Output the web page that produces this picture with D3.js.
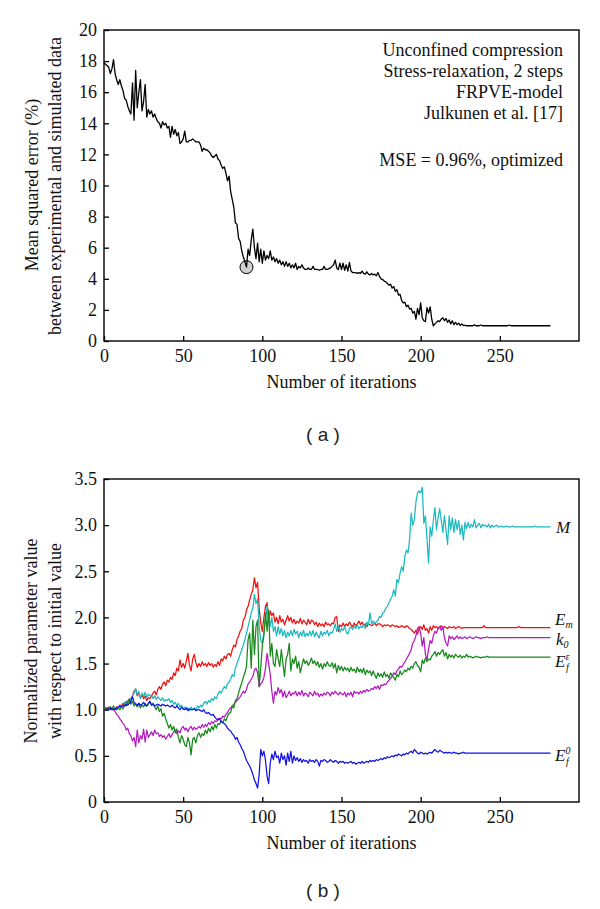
<!DOCTYPE html>
<html><head><meta charset="utf-8">
<script src="https://cdn.jsdelivr.net/npm/d3@7"></script>
<style>body{margin:0;background:#fff}svg{display:block}</style>
</head><body><svg id="c" width="600" height="909"></svg>
<script>
// ---------- data ----------
const xTicks = [0, 50, 100, 150, 200, 250];
const yTicksA = [0, 2, 4, 6, 8, 10, 12, 14, 16, 18, 20];
const yTicksB = [0, 0.5, 1.0, 1.5, 2.0, 2.5, 3.0, 3.5];
const annotationLines = ["Unconfined compression", "Stress-relaxation, 2 steps", "FRPVE-model", "Julkunen et al. [17]"];
const annotationMse = "MSE = 0.96%, optimized";
const optimumIteration = 90;
const optimumValue = 4.75;

const mse = [
17.9,17.8,17.7,17.6,17.2,17.5,18.1,17.2,16.8,16.5,
16.8,16.4,16.1,15.6,15.5,15.1,14.8,14.6,16.6,14.2,
17.4,15.0,16.0,16.8,14.8,15.4,16.5,14.4,14.9,14.6,
14.8,14.4,14.6,14.3,14.1,14.0,13.7,14.1,13.9,14.0,
13.7,13.8,13.1,13.8,13.3,13.6,13.2,13.4,12.7,12.8,
13.0,13.5,12.8,12.8,12.9,12.9,13.0,12.9,12.8,12.8,
12.8,12.6,12.2,12.4,12.3,12.3,12.2,12.1,11.9,11.8,
11.9,12.0,11.7,11.6,11.3,11.1,11.2,10.8,10.3,10.6,
9.6,9.1,8.6,7.6,7.5,6.6,6.4,5.8,5.4,5.1,
4.75,5.9,5.5,6.5,7.2,6.0,5.3,6.3,5.1,5.9,
5.0,5.8,5.2,5.5,5.3,5.8,5.2,5.4,5.1,5.3,
5.0,5.2,4.9,5.1,4.8,5.1,4.8,5.0,4.7,4.9,
4.7,5.0,4.6,4.8,4.7,4.9,4.7,4.6,4.6,4.7,
4.6,4.6,4.8,4.6,4.6,4.6,4.55,4.6,4.6,4.8,
4.6,4.6,4.65,4.7,4.8,4.9,5.2,4.7,4.6,5.0,
4.6,5.0,4.55,4.9,4.5,5.05,4.5,4.4,4.4,4.4,
4.35,4.4,4.35,4.5,4.35,4.3,4.45,4.3,4.25,4.35,
4.25,4.3,4.2,4.4,4.15,4.0,3.95,3.85,3.8,3.7,
3.6,3.65,3.4,3.5,3.2,3.3,2.95,3.0,2.6,2.45,
2.5,2.2,2.3,2.05,2.1,1.8,1.9,1.4,2.1,1.7,
2.45,1.5,1.3,1.25,2.15,1.8,2.2,1.4,0.98,1.1,
1.2,1.3,1.25,1.4,1.5,1.3,1.45,1.2,1.35,1.1,
1.3,1.05,1.2,1.05,1.15,1.0,1.1,1.0,1.0,0.98,
0.98,0.98,0.98,0.98,1.04,0.98,0.98,0.98,1.03,0.98,
0.98,0.98,0.98,0.98,0.98,0.98,0.98,0.98,0.98,0.98,
0.98,0.98,0.98,0.98,0.98,0.98,1.03,0.98,0.98,0.98,
0.98,0.98,0.98,0.98,0.98,0.98,0.98,0.98,0.98,0.98,
0.98,0.98,0.98,0.98,0.98,0.98,0.98,0.98,0.98,0.98,
0.98,0.98,0.98];

const seriesM = [
1.0,1.0,1.02,1.0,1.03,1.01,1.04,1.02,1.0,1.03,
1.02,1.05,1.04,1.08,1.06,1.1,1.08,1.12,1.15,1.18,
1.23,1.16,1.2,1.12,1.18,1.14,1.19,1.13,1.17,1.15,
1.16,1.12,1.15,1.11,1.14,1.12,1.1,1.13,1.09,1.11,
1.1,1.12,1.08,1.1,1.06,1.08,1.04,1.07,1.03,1.05,
1.0,1.03,1.0,1.02,0.99,1.03,1.0,1.02,1.0,1.04,
1.02,1.05,1.03,1.07,1.09,1.06,1.1,1.08,1.12,1.1,
1.14,1.12,1.17,1.2,1.18,1.22,1.25,1.23,1.28,1.3,
1.33,1.38,1.36,1.45,1.5,1.55,1.6,1.65,1.7,1.76,
1.83,1.9,1.97,2.05,2.1,2.25,2.15,2.2,1.9,1.75,
1.72,1.85,1.97,2.12,2.05,1.9,2.0,1.85,1.9,1.8,
1.9,1.82,1.88,1.8,1.86,1.78,1.84,1.8,1.86,1.8,
1.87,1.82,1.85,1.78,1.84,1.8,1.86,1.79,1.83,1.8,
1.85,1.8,1.86,1.79,1.84,1.8,1.78,1.85,1.8,1.84,
1.82,1.86,1.8,1.84,1.83,1.87,1.93,1.85,1.9,1.84,
1.88,1.86,1.9,1.84,1.82,1.88,1.9,1.87,1.91,1.88,
1.92,1.88,1.9,1.89,1.93,1.88,1.95,1.92,2.05,1.93,
1.96,1.94,1.95,1.97,2.01,2.0,2.05,2.06,2.1,2.12,
2.16,2.2,2.23,2.3,2.23,2.41,2.38,2.48,2.55,2.5,
2.66,2.73,2.7,2.84,3.13,3.0,3.06,3.25,3.35,3.37,
3.35,3.41,3.02,3.1,2.85,2.59,2.98,2.88,3.05,3.19,
2.95,3.08,3.18,3.05,2.92,3.1,2.95,2.79,3.1,2.95,
3.08,2.92,3.06,2.95,3.05,2.9,3.0,2.84,3.03,2.96,
3.03,2.97,3.01,2.98,3.06,2.97,3.0,3.02,2.97,3.01,
2.99,3.0,2.98,3.01,2.97,3.0,2.98,2.99,3.0,2.98,
2.98,2.99,2.98,2.98,2.99,2.98,2.98,2.98,2.99,2.98,
2.98,2.98,2.98,2.98,2.98,2.98,2.98,2.98,2.98,2.98,
2.98,2.98,2.99,2.98,2.98,2.98,2.98,2.98,2.98,2.98,
2.98,2.98,2.98];

const seriesEm = [
1.0,1.02,1.0,1.03,1.0,1.02,1.04,1.01,1.03,1.02,
1.05,1.04,1.07,1.06,1.09,1.08,1.12,1.1,1.15,1.2,
1.22,1.15,1.18,1.13,1.16,1.12,1.15,1.1,1.13,1.12,
1.15,1.18,1.2,1.16,1.22,1.25,1.22,1.28,1.3,1.26,
1.32,1.3,1.35,1.33,1.4,1.37,1.45,1.42,1.54,1.46,
1.5,1.45,1.53,1.61,1.48,1.42,1.55,1.6,1.51,1.46,
1.5,1.47,1.52,1.48,1.5,1.47,1.51,1.48,1.5,1.46,
1.49,1.47,1.52,1.48,1.55,1.53,1.58,1.55,1.6,1.61,
1.58,1.65,1.7,1.68,1.76,1.8,1.85,1.88,1.97,2.0,
2.08,2.12,2.19,2.25,2.3,2.43,2.32,2.38,2.1,1.94,
1.85,2.0,2.12,2.16,1.95,2.07,2.02,2.05,1.95,2.0,
1.93,2.02,1.95,1.98,1.92,1.97,2.02,1.96,2.0,1.94,
1.98,1.93,1.96,1.94,1.99,1.93,1.97,1.95,1.92,1.98,
1.93,1.97,1.96,1.92,1.95,1.9,1.94,1.91,1.93,1.9,
1.95,1.92,1.93,1.91,1.94,1.93,2.0,2.01,1.85,1.92,
1.9,1.94,1.9,1.93,1.91,1.95,1.92,1.9,1.94,1.91,
1.93,1.96,1.92,1.95,1.91,1.93,1.9,1.93,1.92,1.91,
1.92,1.94,1.91,1.93,1.93,1.92,1.9,1.92,1.91,1.92,
1.91,1.9,1.92,1.91,1.9,1.91,1.89,1.9,1.91,1.9,
1.89,1.91,1.9,1.88,1.87,1.85,1.83,1.86,1.82,1.88,
1.9,1.87,1.92,1.86,1.88,1.83,1.9,1.86,1.91,1.89,
1.9,1.88,1.89,1.91,1.88,1.9,1.89,1.88,1.9,1.89,
1.89,1.9,1.88,1.89,1.9,1.89,1.88,1.89,1.89,1.89,
1.89,1.89,1.89,1.89,1.89,1.89,1.89,1.89,1.89,1.89,
1.91,1.89,1.89,1.89,1.89,1.89,1.89,1.89,1.89,1.89,
1.89,1.89,1.89,1.89,1.89,1.89,1.89,1.89,1.89,1.89,
1.89,1.89,1.9,1.89,1.89,1.89,1.89,1.89,1.89,1.89,
1.89,1.89,1.89,1.89,1.89,1.89,1.89,1.89,1.89,1.89,
1.89,1.89,1.89];

const seriesK0 = [
1.0,1.0,1.02,1.0,1.01,1.0,1.0,0.98,0.95,0.93,
0.9,0.88,0.85,0.83,0.78,0.8,0.74,0.72,0.66,0.7,
0.6,0.78,0.64,0.72,0.68,0.79,0.65,0.78,0.7,0.73,
0.76,0.72,0.78,0.74,0.75,0.71,0.73,0.7,0.72,0.68,
0.71,0.74,0.7,0.73,0.76,0.78,0.74,0.77,0.75,0.8,
0.82,0.78,0.8,0.76,0.8,0.82,0.78,0.81,0.79,0.8,
0.82,0.8,0.84,0.81,0.84,0.82,0.86,0.84,0.87,0.85,
0.88,0.87,0.9,0.91,0.9,0.93,0.92,0.95,0.97,1.0,
1.02,1.04,1.06,1.08,1.1,1.12,1.14,1.17,1.2,1.18,
1.22,1.28,1.3,1.33,1.36,1.43,1.45,1.4,1.25,1.28,
1.3,1.35,1.45,1.61,1.5,1.38,1.2,1.07,1.2,1.16,
1.24,1.18,1.22,1.14,1.2,1.13,1.16,1.2,1.15,1.18,
1.17,1.2,1.15,1.19,1.16,1.21,1.15,1.18,1.17,1.14,
1.19,1.17,1.15,1.2,1.16,1.18,1.14,1.17,1.15,1.18,
1.16,1.19,1.18,1.15,1.19,1.17,1.2,1.18,1.16,1.19,
1.17,1.16,1.19,1.14,1.18,1.16,1.19,1.14,1.2,1.18,
1.19,1.17,1.2,1.18,1.21,1.19,1.22,1.2,1.21,1.23,
1.22,1.25,1.23,1.26,1.22,1.27,1.26,1.28,1.27,1.3,
1.32,1.34,1.36,1.4,1.38,1.42,1.44,1.47,1.46,1.49,
1.52,1.55,1.58,1.61,1.65,1.72,1.75,1.8,1.88,1.9,
1.83,1.69,1.78,1.6,1.54,1.66,1.75,1.72,1.8,1.85,
1.83,1.88,1.9,1.86,1.9,1.78,1.72,1.69,1.8,1.77,
1.79,1.76,1.78,1.8,1.77,1.79,1.77,1.78,1.79,1.77,
1.78,1.79,1.78,1.77,1.78,1.79,1.78,1.78,1.77,1.78,
1.78,1.78,1.79,1.78,1.78,1.78,1.78,1.78,1.78,1.78,
1.78,1.78,1.78,1.78,1.78,1.78,1.78,1.78,1.78,1.78,
1.78,1.78,1.78,1.78,1.78,1.78,1.78,1.78,1.78,1.78,
1.78,1.78,1.78,1.78,1.78,1.78,1.78,1.78,1.78,1.78,
1.78,1.78,1.78];

const seriesEfEps = [
1.0,1.02,1.0,1.01,1.03,1.0,1.02,1.01,1.0,1.02,
1.0,1.03,1.01,1.05,1.04,1.08,1.11,1.06,1.09,1.04,
1.07,1.03,1.06,1.02,1.05,1.03,1.07,1.04,1.06,1.09,
1.05,1.07,1.03,1.0,1.04,0.98,1.01,0.93,0.96,0.9,
0.85,0.8,0.84,0.78,0.82,0.75,0.79,0.7,0.64,0.72,
0.68,0.62,0.6,0.7,0.64,0.51,0.68,0.7,0.64,0.72,
0.75,0.7,0.74,0.72,0.78,0.74,0.8,0.76,0.82,0.78,
0.84,0.8,0.85,0.84,0.88,0.86,0.9,0.88,0.93,0.96,
0.97,1.04,1.02,1.1,1.12,1.18,1.24,1.29,1.35,1.4,
1.47,1.76,1.83,1.45,1.97,1.6,1.9,1.97,1.25,1.45,
1.7,1.8,2.05,1.85,2.08,1.58,1.72,1.5,1.47,1.65,
1.55,1.47,1.65,1.5,1.36,1.55,1.6,1.72,1.42,1.55,
1.5,1.58,1.45,1.52,1.4,1.48,1.55,1.5,1.53,1.48,
1.51,1.56,1.5,1.53,1.48,1.52,1.46,1.5,1.44,1.5,
1.47,1.52,1.48,1.47,1.51,1.45,1.5,1.4,1.48,1.43,
1.47,1.42,1.46,1.43,1.45,1.41,1.46,1.42,1.44,1.4,
1.46,1.41,1.44,1.4,1.45,1.38,1.43,1.4,1.42,1.37,
1.42,1.38,1.34,1.4,1.36,1.39,1.35,1.41,1.36,1.38,
1.34,1.4,1.37,1.35,1.32,1.38,1.36,1.42,1.38,1.4,
1.43,1.41,1.45,1.43,1.47,1.45,1.5,1.52,1.48,1.46,
1.41,1.54,1.5,1.56,1.52,1.55,1.54,1.58,1.6,1.63,
1.58,1.62,1.6,1.63,1.65,1.58,1.62,1.55,1.6,1.57,
1.59,1.56,1.6,1.58,1.57,1.59,1.56,1.58,1.57,1.6,
1.57,1.58,1.57,1.56,1.57,1.58,1.57,1.57,1.56,1.57,
1.57,1.57,1.58,1.57,1.57,1.57,1.57,1.57,1.57,1.57,
1.57,1.57,1.57,1.57,1.57,1.57,1.57,1.57,1.57,1.57,
1.57,1.57,1.57,1.57,1.57,1.57,1.57,1.57,1.57,1.57,
1.57,1.57,1.57,1.57,1.57,1.57,1.57,1.57,1.57,1.57,
1.57,1.57,1.57];

const seriesEf0 = [
1.0,1.0,1.01,1.0,1.02,1.0,1.01,1.0,1.02,1.03,
1.04,1.03,1.05,1.04,1.06,1.05,1.07,1.09,1.14,1.08,
1.06,1.05,1.07,1.05,1.06,1.08,1.05,1.04,1.07,1.09,
1.05,1.06,1.04,1.05,1.06,1.05,1.04,1.06,1.05,1.04,
1.05,1.04,1.03,1.05,1.03,1.02,1.04,1.02,1.0,1.03,
1.01,1.0,1.02,0.99,1.01,1.0,1.0,1.01,0.99,1.0,
1.0,0.99,0.98,1.0,0.97,0.96,0.97,0.95,0.94,0.95,
0.92,0.9,0.89,0.9,0.87,0.86,0.85,0.83,0.8,0.78,
0.77,0.74,0.72,0.68,0.7,0.65,0.62,0.58,0.55,0.5,
0.45,0.42,0.39,0.35,0.3,0.24,0.2,0.15,0.3,0.57,
0.5,0.55,0.45,0.28,0.2,0.42,0.52,0.46,0.55,0.48,
0.5,0.42,0.53,0.46,0.5,0.4,0.53,0.44,0.55,0.42,
0.5,0.45,0.48,0.44,0.47,0.43,0.46,0.44,0.45,0.42,
0.46,0.44,0.45,0.43,0.46,0.44,0.39,0.45,0.44,0.46,
0.45,0.43,0.44,0.46,0.44,0.43,0.45,0.44,0.42,0.44,
0.43,0.44,0.42,0.43,0.42,0.43,0.44,0.42,0.43,0.41,
0.42,0.43,0.42,0.44,0.42,0.43,0.44,0.43,0.45,0.44,
0.45,0.44,0.46,0.45,0.46,0.47,0.46,0.48,0.47,0.49,
0.48,0.49,0.5,0.49,0.51,0.5,0.52,0.51,0.5,0.52,
0.51,0.53,0.52,0.54,0.55,0.53,0.57,0.55,0.53,0.52,
0.54,0.53,0.52,0.53,0.52,0.53,0.54,0.53,0.55,0.57,
0.55,0.54,0.56,0.55,0.54,0.53,0.54,0.53,0.54,0.53,
0.53,0.54,0.53,0.53,0.52,0.53,0.53,0.54,0.53,0.53,
0.53,0.53,0.53,0.53,0.53,0.53,0.53,0.53,0.53,0.53,
0.53,0.53,0.53,0.53,0.53,0.53,0.53,0.53,0.53,0.53,
0.53,0.53,0.53,0.53,0.53,0.53,0.53,0.53,0.53,0.53,
0.53,0.53,0.53,0.53,0.53,0.53,0.53,0.53,0.53,0.53,
0.53,0.53,0.53,0.53,0.53,0.53,0.53,0.53,0.53,0.53,
0.53,0.53,0.53];

const seriesKeys = ["Em", "M", "k0", "EfEps", "Ef0"];
const seriesValues = [seriesEm, seriesM, seriesK0, seriesEfEps, seriesEf0];

// ---------- styles / layout ----------
const colors = {Em: "#f01010", M: "#1cb9c0", k0: "#b51ac0", EfEps: "#16891a", Ef0: "#1212e6"};
const SERIF = "'Liberation Serif', 'DejaVu Serif', serif";
const SANS = "'Liberation Sans', Arial, sans-serif";

const svg = d3.select("#c");

function panel(top, bottom, yDomain, yTicks, fmt) {
  const x = d3.scaleLinear().domain([0, 300]).range([104, 579]);
  const y = d3.scaleLinear().domain(yDomain).range([bottom, top]);
  const gx = svg.append("g").attr("transform", `translate(0,${bottom})`)
    .call(d3.axisBottom(x).tickValues(xTicks).tickSizeInner(-5).tickSizeOuter(0).tickPadding(8));
  const gy = svg.append("g").attr("transform", "translate(104,0)")
    .call(d3.axisLeft(y).tickValues(yTicks).tickFormat(fmt).tickSizeInner(-5).tickSizeOuter(0).tickPadding(7));
  [gx, gy].forEach(g => {
    g.attr("font-family", null).attr("font-size", null);
    g.select(".domain").remove();
    g.selectAll("line").attr("stroke", "#000").attr("stroke-width", 1.3);
    g.selectAll("text").style("font-family", SERIF).style("font-size", "18px").attr("fill", "#111");
  });
  svg.append("rect").attr("x", 104).attr("y", top).attr("width", 475).attr("height", bottom - top)
    .attr("fill", "none").attr("stroke", "#000").attr("stroke-width", 1.4);
  return {x, y};
}

function serifText(x, y, txt, anchor, rotate) {
  const t = svg.append("text").style("font-family", SERIF).style("font-size", "18px").attr("fill", "#111")
    .attr("text-anchor", anchor || "middle").text(txt);
  if (rotate) t.attr("transform", `translate(${x},${y}) rotate(-90)`);
  else t.attr("x", x).attr("y", y);
  return t;
}

// ---------- panel (a) ----------
const A = panel(30, 341, [0, 20], yTicksA, d3.format("d"));
svg.append("circle").attr("cx", A.x(optimumIteration)).attr("cy", A.y(optimumValue)).attr("r", 6.5)
  .attr("fill", "#cfcfcf").attr("stroke", "#000").attr("stroke-width", 1);
svg.append("path").datum(mse)
  .attr("d", d3.line().x((d, i) => A.x(i)).y(d => A.y(d)))
  .attr("fill", "none").attr("stroke", "#000").attr("stroke-width", 1.3).attr("stroke-linejoin", "round");

annotationLines.forEach((t, i) => serifText(563, 55.5 + i * 21, t, "end"));
serifText(563, 166, annotationMse, "end");

serifText(341.5, 388, "Number of iterations");
serifText(38, 185, "Mean squared error (%)", "middle", true);
serifText(61, 186, "between experimental and simulated data", "middle", true);
svg.append("text").attr("x", 323).attr("y", 441).attr("text-anchor", "middle")
  .style("font-family", SANS).style("font-size", "19px").attr("fill", "#222").style("white-space", "pre").text("( a )");

// ---------- panel (b) ----------
const B = panel(479, 802, [0, 3.5], yTicksB, d => d === 0 ? "0" : d3.format(".1f")(d));
const lineB = d3.line().x((d, i) => B.x(i)).y(d => B.y(d));
seriesKeys.forEach((k, j) => {
  svg.append("path").datum(seriesValues[j]).attr("d", lineB)
    .attr("fill", "none").attr("stroke", colors[k]).attr("stroke-width", 1.25).attr("stroke-linejoin", "round");
});

// right-hand series labels
function seriesLabel(x, y, main, sub, sup) {
  const t = svg.append("text").attr("x", x).attr("y", y).style("font-family", SERIF)
    .style("font-style", "italic").style("font-size", "17px").attr("fill", "#111");
  t.append("tspan").text(main);
  if (sup) {
    t.append("tspan").style("font-size", "10px").attr("dy", -7).text(sup);
    t.append("tspan").style("font-size", "10px").attr("x", x + 11).attr("dy", 11).text(sub);
  } else if (sub) {
    t.append("tspan").style("font-size", "10px").attr("dy", 2.5).text(sub);
  }
}
seriesLabel(556, 533, "M");
seriesLabel(555, 625, "E", "m");
seriesLabel(556, 645, "k", "0");
seriesLabel(555, 667, "E", "f", "ε");
seriesLabel(555, 761, "E", "f", "0");

serifText(341.5, 849, "Number of iterations");
serifText(37, 641, "Normalized parameter value", "middle", true);
serifText(61, 641, "with respect to initial value", "middle", true);
svg.append("text").attr("x", 323).attr("y", 897).attr("text-anchor", "middle")
  .style("font-family", SANS).style("font-size", "19px").attr("fill", "#222").style("white-space", "pre").text("( b )");
</script></body></html>
